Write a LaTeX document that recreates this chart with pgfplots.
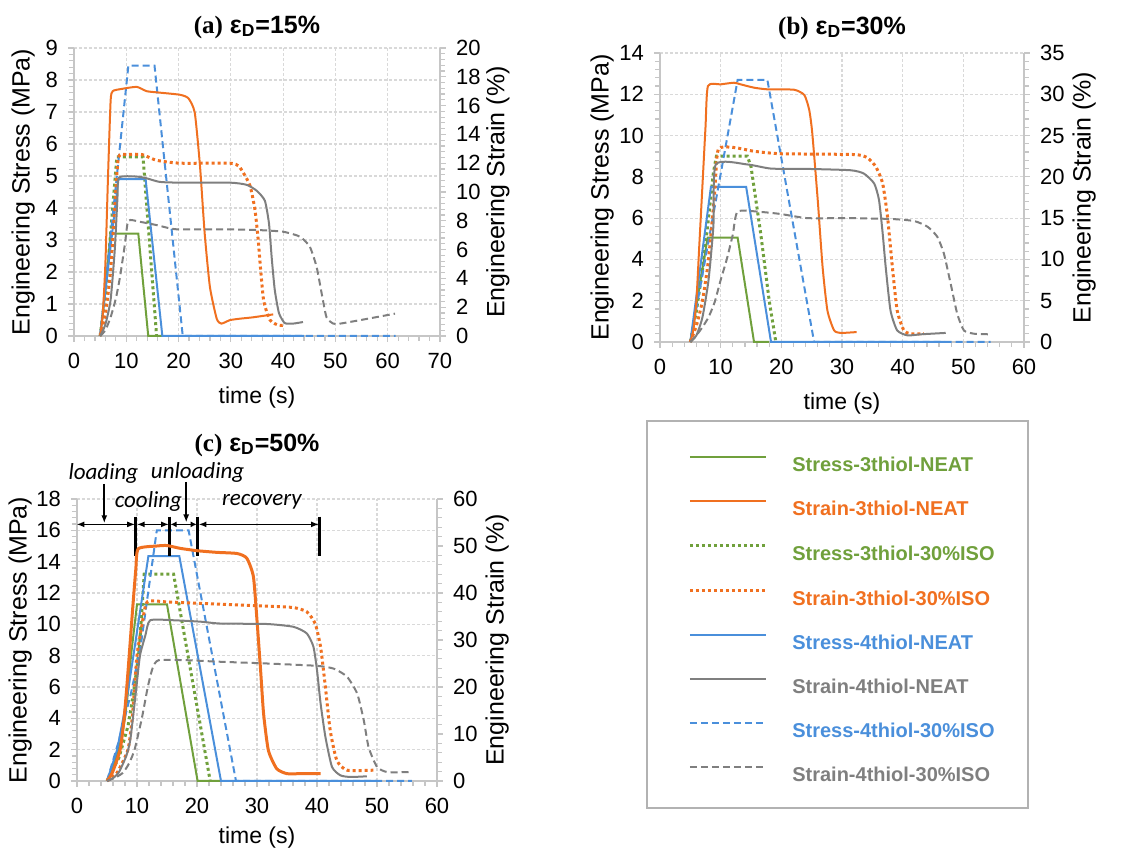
\documentclass[border=0pt]{standalone}
\usepackage{fontspec}
\setmainfont{Liberation Sans}
\newfontfamily\timesfont{Liberation Serif}
\newfontfamily\calfont{Carlito}
\usepackage{pgfplots}
\pgfplotsset{compat=1.18}
\usetikzlibrary{arrows.meta}

\definecolor{cgreen}{HTML}{70A03C}
\definecolor{corange}{HTML}{F07020}
\definecolor{cblue}{HTML}{4A8FDB}
\definecolor{cgray}{HTML}{7F7F7F}

\pgfplotsset{
  common/.style={
    scale only axis, anchor=south west,
    xmin=0, ymin=0,
    axis line style={gray!45, line width=0.8pt},
    tick style={gray!45, line width=0.6pt},
    tick align=outside, major tick length=3pt, minor tick length=2.5pt,
    minor y tick num=4,
    /pgf/number format/assume math mode=true,
    ticklabel style={font=\fontsize{11}{13}\selectfont},
    yticklabel style={xshift=-1.5pt},
    label style={font=\fontsize{12.5}{14}\selectfont},
    clip=false,
  },
  stressax/.style={common,
    axis x line*=bottom, axis y line*=left,
    minor x tick num=4,
    xticklabel style={yshift=-2pt},
    grid=major, grid style={gray!30, dash pattern=on 1.5pt off 1pt, line width=0.6pt},
    xlabel={time (s)}, ylabel={Engineering Stress (MPa)},
    xlabel style={at={(axis description cs:0.5,0)}, anchor=center, yshift=-31pt, font=\fontsize{11.5}{13}\selectfont},
    title style={font=\bfseries\fontsize{12.5}{14}\selectfont, at={(axis description cs:0.5,1)}, anchor=center},
  },
  strainax/.style={common,
    axis x line=none, axis y line*=right,
    yticklabel style={xshift=3pt},
    ylabel={Engineering Strain (\%)},
  },
  ssolid/.style={line width=1pt},
  sdot/.style={line width=1.5pt, dash pattern=on 1.5pt off 1.5pt},
  sdash/.style={line width=1pt, dash pattern=on 3.5pt off 2pt},
  sm/.style={smooth, tension=0.35},
}

\begin{document}
\begin{tikzpicture}
\path[use as bounding box] (0,0) rectangle (574pt,425.5pt);

%% ---------------- (a) 15% ----------------
\begin{axis}[stressax, at={(37pt,257.5pt)}, width=183pt, height=144pt,
    xmax=70, ymax=9, xtick={0,10,...,70}, ytick={0,1,...,9},
    ylabel style={at={(axis description cs:-0.139,0.5)}, anchor=center},
    title={{\timesfont\bfseries (a)} ε\textsubscript{D}=15\%},
    title style={yshift=4.5pt}]
\addplot[cgreen, ssolid] coordinates {(5,0)(6,1.4)(7,3.2)(12.3,3.2)(14.2,0)(17,0)};
\addplot[cgreen, sdot] coordinates {(5,0)(6,1.3)(7,3.2)(8.2,5.6)(13.2,5.6)(15.8,0)};
\addplot[cblue, ssolid] coordinates {(5,0)(8.5,4.9)(13.7,4.9)(16.9,0)(44,0)};
\addplot[cblue, sdash] coordinates {(5,0)(10.4,8.45)(15.4,8.45)(20.8,0)(61.5,0)};
\end{axis}
\begin{axis}[strainax, at={(37pt,257.5pt)}, width=183pt, height=144pt,
    xmax=70, ymax=20, ytick={0,2,...,20},
    ylabel style={at={(axis description cs:1.158,0.5)}, anchor=center}]
\addplot[corange, ssolid, sm] coordinates {(5,0)(5.5,1.5)(6,5)(6.5,11)(7,16.3)(7.4,17.0)(9,17.15)(12,17.3)(13.9,17.0)(16.4,16.9)(20.3,16.75)(21.9,16.5)(23.1,15.5)(24.1,11.8)(25,7.1)(26,3.4)(27.3,1.2)(28.2,0.86)(29.8,1.1)(31.7,1.2)(34.3,1.3)(38.1,1.5)};
\addplot[corange, sdot, sm] coordinates {(5,0)(6,1.5)(7,4.5)(7.8,9)(8.5,12.4)(10,12.6)(13,12.6)(15.8,12.2)(20.3,12.0)(29.8,12.0)(31.5,11.8)(32.6,11.2)(33.7,10.4)(34.6,8.8)(35.2,6.8)(35.7,4.6)(36.3,2.4)(37.5,1.1)(39.1,0.75)(40.3,0.75)};
\addplot[cgray, ssolid, sm] coordinates {(5,0)(6,0.8)(7,2.5)(7.8,6)(8.3,9.5)(8.6,11.0)(12,11.07)(13.9,10.95)(16.4,10.7)(20.3,10.65)(29.8,10.65)(33,10.5)(34.9,10.1)(36.5,9.4)(37.3,7.8)(37.8,5.5)(38.4,3.2)(39.2,1.6)(40.3,0.9)(41.9,0.86)(43.8,0.97)};
\addplot[cgray, sdash, sm] coordinates {(5,0)(6,0.4)(7,1.3)(8,2.6)(8.8,4.1)(9.75,6.4)(10.4,8.0)(12.6,7.93)(15.8,7.7)(18.4,7.47)(20.3,7.4)(29.8,7.4)(35.6,7.35)(40,7.24)(43.2,6.9)(45.1,6.2)(46.4,4.8)(47.4,2.9)(48.3,1.3)(49.6,0.86)(50.9,0.86)(54.7,1.1)(61.4,1.55)};
\end{axis}

%% ---------------- (b) 30% ----------------
\begin{axis}[stressax, at={(330pt,254.5pt)}, width=182pt, height=144.5pt,
    xmax=60, ymax=14, xtick={0,10,...,60}, ytick={0,2,...,14},
    ylabel style={at={(axis description cs:-0.159,0.5)}, anchor=center},
    title={{\timesfont\bfseries (b)} ε\textsubscript{D}=30\%},
    title style={yshift=6.5pt}]
\addplot[cgreen, ssolid] coordinates {(5,0)(7.85,5.05)(12.8,5.05)(15.5,0)(18,0)};
\addplot[cgreen, sdot] coordinates {(5,0)(6,1.5)(7,3.5)(8,6)(8.8,8.2)(9.3,9.0)(14.4,9.0)(15,8.5)(16.6,5.26)(18,2.0)(19.1,0)};
\addplot[cblue, ssolid] coordinates {(5,0)(8.4,7.52)(14.2,7.52)(18.3,0)(47,0)};
\addplot[cblue, sdash] coordinates {(5,0)(12.8,12.7)(17.7,12.7)(25.4,0)(54.5,0)};
\end{axis}
\begin{axis}[strainax, at={(330pt,254.5pt)}, width=182pt, height=144.5pt,
    xmax=60, ymax=35, ytick={0,5,...,35},
    ylabel style={at={(axis description cs:1.165,0.5)}, anchor=center}]
\addplot[corange, ssolid, sm] coordinates {(5,0)(5.5,1.5)(6,5)(6.5,12)(7,19)(7.5,26)(7.9,31.0)(10,31.2)(12.2,31.4)(13.3,31.2)(15.5,30.8)(17.7,30.6)(22.1,30.55)(23.8,29.9)(24.6,28.1)(25.1,25.3)(26,17.2)(26.8,9.1)(27.6,3.8)(28.7,1.4)(29.8,1.1)(30.9,1.13)(32.4,1.2)};
\addplot[corange, sdot, sm] coordinates {(5,0)(6,2)(7,5)(8,10)(9,18)(9.6,23.3)(12.2,23.55)(15.5,23.1)(19.9,22.8)(32,22.7)(34.2,22.3)(35.6,21.2)(36.7,19.2)(37.5,15.2)(38.3,9.1)(39.1,3.8)(40.2,1.4)(41.3,1.0)(43.5,1.0)};
\addplot[cgray, ssolid, sm] coordinates {(5,0)(6,0.8)(7,3)(8,7.5)(8.8,14)(9.2,21.5)(14.4,21.5)(18.3,21.0)(24.3,20.96)(31.4,20.8)(33.6,20.4)(35.3,19.2)(36.1,17.2)(36.7,13.2)(37.2,9.1)(38,3.8)(39.1,1.4)(40.8,0.8)(43,0.93)(47.1,1.1)};
\addplot[cgray, sdash, sm] coordinates {(5,0)(6,0.8)(7,1.8)(8,3)(9,4.8)(10,7.5)(11,10)(12,13)(12.8,15.8)(16.6,15.75)(19.9,15.5)(24.3,15.0)(30.9,15.0)(38,14.9)(41.9,14.65)(44.1,13.96)(45.7,12.75)(46.8,10.7)(47.9,7.1)(49,3.4)(50.1,1.4)(51.8,1.0)(54.5,0.93)};
\end{axis}

%% ---------------- (c) 50% ----------------
\begin{axis}[stressax, at={(38.5pt,35pt)}, width=180pt, height=141pt,
    xmax=60, ymax=18, xtick={0,10,...,60}, ytick={0,2,...,18},
    xlabel style={yshift=2.5pt},
    ylabel style={at={(axis description cs:-0.158,0.5)}, anchor=center},
    title={{\timesfont\bfseries (c)} ε\textsubscript{D}=50\%},
    title style={yshift=21pt}]
\addplot[cgreen, ssolid] coordinates {(5,0)(6.5,1.5)(7.4,2.7)(8,4)(8.6,6)(9,8)(10,11.27)(15,11.27)(20.1,0)(23.9,0)};
\addplot[cgreen, sdot] coordinates {(5,0)(7,1.5)(8.5,3.5)(9.5,5.8)(10.4,8.5)(11.2,13.2)(16.1,13.2)(22.2,0)};
\addplot[cblue, ssolid] coordinates {(5,0)(6.7,2)(7.7,4)(8.6,6)(9.4,8)(11.9,14.36)(17.05,14.36)(24,0)(50,0)};
\addplot[cblue, sdash] coordinates {(5,0)(7,2.6)(9,5.6)(10.6,8.56)(13.3,16)(18.6,16)(26.5,0)(55.8,0)};
% phase annotations
\draw[line width=0.8pt, {Latex[length=4pt,width=3pt]}-{Latex[length=4pt,width=3pt]}] (-0.1,16.38) -- (9.7,16.38);
\draw[line width=0.8pt, {Latex[length=4pt,width=3pt]}-{Latex[length=4pt,width=3pt]}] (9.95,16.38) -- (15.35,16.38);
\draw[line width=0.8pt, {Latex[length=3pt,width=3pt]}-{Latex[length=3pt,width=3pt]}] (15.6,16.38) -- (19.95,16.38);
\draw[line width=0.8pt, {Latex[length=4pt,width=3pt]}-{Latex[length=4pt,width=3pt]}] (20.25,16.38) -- (40.35,16.38);
\draw[line width=1.5pt] (9.83,16.87) -- (9.83,14.36);
\draw[line width=1.5pt] (15.45,16.87) -- (15.45,14.36);
\draw[line width=1.5pt] (20.1,16.87) -- (20.1,14.36);
\draw[line width=1.5pt] (40.5,16.87) -- (40.5,14.36);
\draw[line width=0.8pt, -{Latex[length=4pt,width=3pt]}] (4.55,18.96) -- (4.55,16.45);
\draw[line width=0.8pt, -{Latex[length=4pt,width=3pt]}] (18.2,19.1) -- (18.2,16.5);
\node[font=\calfont\itshape\fontsize{11.5}{13}\selectfont] at (4.4,19.6) {loading};
\node[font=\calfont\itshape\fontsize{11.5}{13}\selectfont] at (11.9,17.85) {cooling};
\node[font=\calfont\itshape\fontsize{11.5}{13}\selectfont] at (20.1,19.7) {unloading};
\node[font=\calfont\itshape\fontsize{11.5}{13}\selectfont] at (30.8,17.85) {recovery};
\end{axis}
\begin{axis}[strainax, at={(38.5pt,35pt)}, width=180pt, height=141pt,
    xmax=60, ymax=60, ytick={0,10,...,60},
    ylabel style={at={(axis description cs:1.167,0.5)}, anchor=center},
    legend style={at={(axis description cs:1.697,1.1535)}, anchor=north west,
      draw=none, fill=none, inner sep=0pt, row sep=14.2pt, column sep=12.5pt,
      font=\bfseries\fontsize{10}{12}\selectfont,
      nodes={inner sep=0pt, text height=7.5pt, text depth=0pt}},
    legend cell align=left,
    legend image code/.code={\draw[#1] (0pt,3.6pt) -- (38pt,3.6pt);}]
\addplot[corange, ssolid, line width=1.5pt, sm, forget plot] coordinates {(5,0)(5.9,1.8)(7.2,6.7)(7.85,13.3)(8.3,20)(8.7,26.7)(9.3,37)(9.8,45)(10.2,49.4)(13.3,50.0)(15,50.1)(17.2,49.5)(20,49.0)(23.3,48.65)(26.7,48.4)(28.3,47.4)(29.4,43.5)(30,34.2)(30.6,23.6)(31.1,14.3)(31.9,6.5)(33.3,2.6)(35,1.56)(37.2,1.56)(40.6,1.56)};
\addplot[corange, sdot, sm, forget plot] coordinates {(5,0)(6.7,1.8)(8.5,6.7)(9.2,13.3)(9.6,20)(10,26.7)(10.8,33)(11.7,38.1)(15,38.1)(20.6,37.8)(31.7,37.2)(36.1,36.9)(38.3,36)(39.7,33.5)(40.6,28.5)(41.4,20)(42.2,10.8)(43.3,4.4)(45,2.3)(49.4,2.3)};
\addplot[cgray, ssolid, sm, forget plot] coordinates {(5,0)(6,0.6)(7,1.9)(8.2,5.3)(8.9,8.9)(9.9,20)(10.5,26.7)(11.4,31)(12.2,34.2)(16.1,34.2)(20.6,33.9)(23.9,33.5)(31.7,33.4)(36.1,32.8)(38.3,31.4)(39.4,28.6)(40,23.6)(40.6,16.5)(41.4,9.4)(42.5,3.0)(43.9,1.2)(45.6,0.85)(48.3,1.0)};
\addplot[cgray, sdash, sm, forget plot] coordinates {(5,0)(6.5,0.8)(7.7,1.8)(8.7,3.8)(9.6,6.7)(10.8,13.3)(11.8,20)(12.6,24)(13.6,25.7)(18.3,25.7)(23.3,25.4)(31.7,25.0)(40,24.5)(42.8,23.9)(45,22.2)(46.7,18.6)(47.8,12.9)(48.6,7.2)(50,3.0)(51.7,1.9)(55.3,1.9)};
\addlegendimage{cgreen, ssolid}
\addlegendentry{\textcolor{cgreen}{Stress-3thiol-NEAT}}
\addlegendimage{corange, ssolid}
\addlegendentry{\textcolor{corange}{Strain-3thiol-NEAT}}
\addlegendimage{cgreen, sdot}
\addlegendentry{\textcolor{cgreen}{Stress-3thiol-30\%ISO}}
\addlegendimage{corange, sdot}
\addlegendentry{\textcolor{corange}{Strain-3thiol-30\%ISO}}
\addlegendimage{cblue, ssolid}
\addlegendentry{\textcolor{cblue}{Stress-4thiol-NEAT}}
\addlegendimage{cgray, ssolid}
\addlegendentry{\textcolor{cgray}{Strain-4thiol-NEAT}}
\addlegendimage{cblue, sdash}
\addlegendentry{\textcolor{cblue}{Stress-4thiol-30\%ISO}}
\addlegendimage{cgray, sdash}
\addlegendentry{\textcolor{cgray}{Strain-4thiol-30\%ISO}}
\end{axis}

\draw[gray!60, line width=1.2pt] (323.5pt,21.5pt) rectangle (514pt,215pt);
\end{tikzpicture}
\end{document}
